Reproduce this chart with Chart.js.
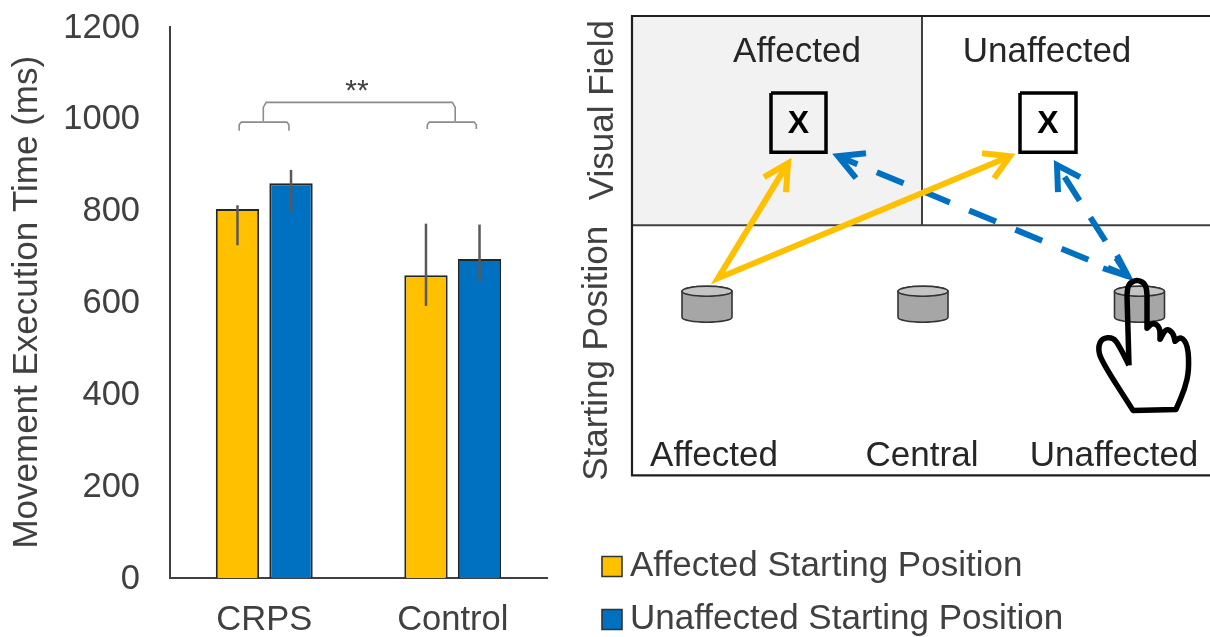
<!DOCTYPE html>
<html><head><meta charset="utf-8">
<script src="https://cdn.jsdelivr.net/npm/chart.js@4"></script>
<style>
html,body{margin:0;padding:0;background:#fff;overflow:hidden;width:1210px;height:637px}
canvas{position:absolute;top:0;filter:blur(.45px)}
#bars{left:0}
#diagram{left:570px}
</style></head><body>
<canvas id="bars" width="570" height="637"></canvas>
<canvas id="diagram" width="640" height="647"></canvas>
<script>
// ---- bar chart data ----
const groups = ['CRPS', 'Control'];
const affectedLabel = 'Affected Starting Position';
const unaffectedLabel = 'Unaffected Starting Position';
const affectedValues = [803, 659];
const unaffectedValues = [859, 694];
const affectedErrLow = [724, 592];
const affectedErrHigh = [811, 771];
const unaffectedErrLow = [796, 644];
const unaffectedErrHigh = [888, 769];
const yTicks = [0, 200, 400, 600, 800, 1000, 1200];
const yTitle = 'Movement Execution Time (ms)';
// significance brackets (x in group units, y in ms)
const bracketCrps = [[-.133,973],[-.133,986],[-.122,992],[.12,992],[.131,986],[.131,973]];
const bracketControl = [[.865,977],[.865,986],[.876,992],[1.114,992],[1.125,986],[1.125,977]];
const bracketTop = [[-.005,994],[-.005,1024],[.01,1035],[.998,1035],[1.013,1024],[1.013,994]];
const sigMark = ['**', .492, 1058];

// ---- task diagram geometry (x, y in diagram units) ----
const frameOuter = [[1210,16],[632,16],[632,475],[1210,475]];
const frameMidH = [[632,225],[1210,225]];
const frameMidV = [[922,16],[922,225]];
const shadedField = [632,16,922,225];
const targetLeft = [[771,93],[826,93],[826,152],[771,152],[771,93]];
const targetRight = [[1020,93],[1076,93],[1076,152],[1020,152],[1020,93]];
const yellowPath = [[788,163],[718,278],[1010,156]];
const yellowHeadA = [[764,177],[788,163],[786,192]];
const yellowHeadB = [[982,153],[1010,156],[994,178]];
const blueLongPath = [[838,156],[1128,276]];
const blueShortPath = [[1057,165],[1128,276]];
const blueHeadA = [[866,153],[838,156],[856,178]];
const blueHeadB = [[1080,177],[1057,165],[1058,192]];
const blueHeadC = [[1103,268],[1128,276],[1117,255]];
const cylinders = [707, 923, 1139.5];
const handOutline = [[1129,365],[1129,365],[1127,295],[1127,295],[1128,284],[1137,279],[1146,284],[1147,295],[1147,295],
  [1147,328],[1147,328],[1153,322],[1160,327],[1160,339],[1160,339],[1166,328],[1173,332],[1175,341],[1175,341],
  [1181,336],[1188,345],[1189,370],[1185,388],[1176,409],[1176,409],[1133,410],[1133,410],[1101,360],[1098,347],
  [1102,338],[1113,337],[1119,345],[1129,365],[1129,365]];
const fieldLabels = [['Affected',797,52],['Unaffected',1047,52],['Affected',714,456],['Central',922,456],['Unaffected',1114,456]];
const targetMarks = [['X',798.5,124],['X',1048,124]];
const sideTitles = [['Visual Field',603,110],['Starting Position',597,353]];

const FONT = '"Liberation Sans", Arial, sans-serif';
const YELLOW = '#FFC000', BLUE = '#0070C0', TEXT = '#404040';
Chart.defaults.font.family = FONT;
Chart.defaults.animation = false;

const toPts = a => a.map(p => ({x:p[0], y:p[1]}));

const errorBars = {
  id:'errorBars',
  afterDatasetsDraw(chart){
    const {ctx, scales:{y, xb}} = chart;
    const lows = [affectedErrLow, unaffectedErrLow], highs = [affectedErrHigh, unaffectedErrHigh];
    ctx.save();
    ctx.strokeStyle = '#595959'; ctx.lineWidth = 2.5;
    [0,1].forEach(d => chart.getDatasetMeta(d).data.forEach((bar,i) => {
      ctx.beginPath();
      ctx.moveTo(bar.x, y.getPixelForValue(lows[d][i]));
      ctx.lineTo(bar.x, y.getPixelForValue(highs[d][i]));
      ctx.stroke();
    }));
    ctx.strokeStyle = '#8c8c8c'; ctx.lineWidth = 1.6; ctx.lineJoin = 'round';
    [bracketCrps, bracketControl, bracketTop].forEach(b => {
      ctx.beginPath();
      b.forEach((p,i) => {
        const px = xb.getPixelForValue(p[0]), py = y.getPixelForValue(p[1]);
        if(i) ctx.lineTo(px,py); else ctx.moveTo(px,py);
      });
      ctx.stroke();
    });
    ctx.fillStyle = TEXT; ctx.font = '30px '+FONT; ctx.textAlign='center'; ctx.textBaseline='middle';
    ctx.fillText(sigMark[0], xb.getPixelForValue(sigMark[1]), y.getPixelForValue(sigMark[2]));
    ctx.restore();
  }
};

new Chart(document.getElementById('bars'), {
  type:'bar',
  data:{labels:groups, datasets:[
    {label:affectedLabel, data:affectedValues, backgroundColor:YELLOW, borderColor:'#262626', borderWidth:2, categoryPercentage:.568, barPercentage:.81},
    {label:unaffectedLabel, data:unaffectedValues, backgroundColor:BLUE, borderColor:'#262626', borderWidth:2, categoryPercentage:.568, barPercentage:.81}
  ]},
  options:{
    responsive:false,
    layout:{padding:{left:0,right:23,top:26.5,bottom:0}},
    plugins:{legend:{display:false}, tooltip:{enabled:false}},
    scales:{
      x:{grid:{display:false,drawTicks:false}, border:{color:TEXT,width:2},
         ticks:{font:{size:34.5},color:TEXT,padding:22},
         afterFit(s){s.height=59;}},
      xb:{type:'linear',display:false,offset:false,min:-.5,max:1.5},
      y:{min:0,max:1200,grid:{display:false,drawTicks:false},border:{color:TEXT,width:2},
         afterBuildTicks(s){s.ticks=yTicks.map(v=>({value:v}));},
         ticks:{font:{size:34.5},color:TEXT,padding:30,labelOffset:1.5,callback:v=>String(v)},
         title:{display:true,text:yTitle,font:{size:35},color:TEXT,padding:{top:6,bottom:0}},
         afterFit(s){s.width=170;s.paddingTop=0;s.paddingBottom=0;}}
    }
  },
  plugins:[errorBars]
});

// ---- diagram ----
const line = (data,color,width,extra) => Object.assign({type:'scatter',showLine:true,data:toPts(data),borderColor:color,borderWidth:width,pointRadius:0,tension:0,clip:false,borderJoinStyle:'miter'},extra||{});
const smooth = (ctx,pts) => {
  ctx.beginPath(); ctx.moveTo(pts[0][0],pts[0][1]);
  for(let i=1;i<pts.length-1;i++){
    const m=[(pts[i][0]+pts[i+1][0])/2,(pts[i][1]+pts[i+1][1])/2];
    ctx.quadraticCurveTo(pts[i][0],pts[i][1],m[0],m[1]);
  }
  ctx.lineTo(pts[pts.length-1][0],pts[pts.length-1][1]);
};
const diagramArt = {
  id:'diagramArt',
  beforeDatasetsDraw(chart){
    const {ctx,scales:{x,y}} = chart;
    ctx.save(); ctx.fillStyle='#f2f2f2';
    const l=x.getPixelForValue(shadedField[0]),t=y.getPixelForValue(shadedField[1]);
    ctx.fillRect(l,t,x.getPixelForValue(shadedField[2])-l,y.getPixelForValue(shadedField[3])-t);
    ctx.restore();
  },
  afterDatasetsDraw(chart){
    const {ctx,scales:{x,y}} = chart;
    ctx.save();
    cylinders.forEach(cx => {
      const px=x.getPixelForValue(cx), top=y.getPixelForValue(291), bot=y.getPixelForValue(317), rx=25, ry=5;
      ctx.strokeStyle='#333'; ctx.lineWidth=1.6; ctx.fillStyle='#a6a6a6';
      ctx.beginPath(); ctx.moveTo(px-rx,top); ctx.lineTo(px-rx,bot);
      ctx.ellipse(px,bot,rx,ry,0,Math.PI,0,true); ctx.lineTo(px+rx,top);
      ctx.ellipse(px,top,rx,ry,0,0,Math.PI,true); ctx.closePath(); ctx.fill(); ctx.stroke();
      ctx.fillStyle='#c4c4c4'; ctx.beginPath(); ctx.ellipse(px,top,rx,ry,0,0,Math.PI*2); ctx.fill(); ctx.stroke();
    });
    ctx.strokeStyle='#000'; ctx.lineWidth=5.5; ctx.lineJoin='round';
    smooth(ctx, handOutline.map(p=>[x.getPixelForValue(p[0]),y.getPixelForValue(p[1])])); ctx.stroke();
    ctx.textAlign='center'; ctx.textBaseline='middle'; ctx.fillStyle='#262626';
    ctx.font='35px '+FONT;
    fieldLabels.forEach(l=>ctx.fillText(l[0],x.getPixelForValue(l[1]),y.getPixelForValue(l[2])));
    ctx.fillStyle='#000'; ctx.font='bold 32px '+FONT;
    targetMarks.forEach(l=>ctx.fillText(l[0],x.getPixelForValue(l[1]),y.getPixelForValue(l[2])));
    ctx.fillStyle=TEXT; ctx.font='35px '+FONT;
    sideTitles.forEach(l=>{
      ctx.save(); ctx.translate(x.getPixelForValue(l[1]),y.getPixelForValue(l[2])); ctx.rotate(-Math.PI/2);
      ctx.fillText(l[0],0,0); ctx.restore();
    });
    ctx.restore();
  }
};

new Chart(document.getElementById('diagram'), {
  type:'scatter',
  data:{datasets:[
    line(yellowPath,YELLOW,6,{label:affectedLabel,backgroundColor:YELLOW,order:1}),
    line(blueLongPath,BLUE,6,{label:unaffectedLabel,backgroundColor:BLUE,borderDash:[29,21],borderDashOffset:8,order:2}),
    line(blueShortPath,BLUE,6,{borderDash:[28,20],borderDashOffset:34,order:2}),
    line(yellowHeadA,YELLOW,6,{order:1}), line(yellowHeadB,YELLOW,6,{order:1}),
    line(blueHeadA,BLUE,6,{order:2}), line(blueHeadB,BLUE,6,{order:2}), line(blueHeadC,BLUE,6,{order:2}),
    line(frameOuter,'#1f1f1f',2.2,{order:5}), line(frameMidH,'#404040',2,{order:5}), line(frameMidV,'#404040',2,{order:5}),
    line(targetLeft,'#000',3.5,{order:4}), line(targetRight,'#000',3.5,{order:4})
  ]},
  options:{
    responsive:false,
    layout:{padding:{left:23.5,right:0,top:0,bottom:0}},
    plugins:{
      tooltip:{enabled:false},
      legend:{position:'bottom',align:'start',
        labels:{usePointStyle:true,boxWidth:1,boxHeight:20,padding:18,color:TEXT,font:{size:35},
          generateLabels:()=>[
            {text:affectedLabel,fillStyle:YELLOW,strokeStyle:'#333',lineWidth:1.6,pointStyle:'rect',datasetIndex:0,fontColor:TEXT},
            {text:unaffectedLabel,fillStyle:BLUE,strokeStyle:'#333',lineWidth:1.6,pointStyle:'rect',datasetIndex:1,fontColor:TEXT}
          ]}}
    },
    scales:{
      x:{type:'linear',display:false,min:593.5,max:1210},
      y:{type:'linear',display:false,min:0,max:530.5,reverse:true}
    }
  },
  plugins:[diagramArt]
});
</script>
</body></html>
